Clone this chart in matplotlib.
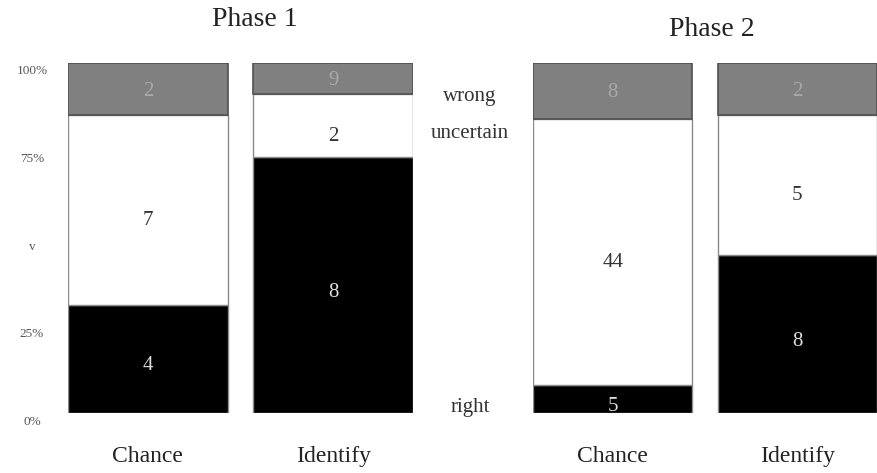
import matplotlib
matplotlib.use("Agg")
import matplotlib.pyplot as plt
from matplotlib.transforms import ScaledTranslation

plt.rcParams['font.family'] = ['Liberation Serif', 'DejaVu Serif']

categories = ["Chance", "Identify"]
phases = ["Phase 1", "Phase 2"]
# percent heights: right, uncertain, wrong
right_pct = [[31, 73], [8, 45]]
uncertain_pct = [[54, 18], [76, 40]]
wrong_pct = [[15, 9], [16, 15]]
# numbers printed in the segments
right_lbl = [["4", "8"], ["5", "8"]]
uncertain_lbl = [["7", "2"], ["44", "5"]]
wrong_lbl = [["2", "9"], ["8", "2"]]
ytick_vals = [0, 25, 50, 75, 100]
ytick_lbls = ["0%", "25%", "v", "75%", "100%"]
side_labels = ["wrong", "uncertain", "right"]

W, H = 878, 473
fig = plt.figure(figsize=(W / 100, H / 100), dpi=100)

axes_px = [(68, 413), (533, 877)]
bot_px, top_px = 413, 63
bw = 0.862
axes = []
for i, (l, r) in enumerate(axes_px):
    ax = fig.add_axes([l / W, (H - bot_px) / H, (r - l) / W, (bot_px - top_px) / H])
    axes.append(ax)
    x = list(range(len(categories)))
    rp = right_pct[i]
    up = uncertain_pct[i]
    wp = wrong_pct[i]
    ub = rp
    wb = [a + b for a, b in zip(rp, up)]
    ax.bar(x, rp, width=bw, color="black", edgecolor="#8a8a8a", linewidth=1.0)
    ax.bar(x, up, bottom=ub, width=bw, color="white", edgecolor="#8a8a8a", linewidth=1.0)
    ax.bar(x, wp, bottom=wb, width=bw, color="#808080", edgecolor="#505050", linewidth=1.2)
    for j in x:
        ax.text(j, rp[j] / 2 - 2, right_lbl[i][j], ha="center", va="center",
                color="#dddddd", fontsize=15)
        ax.text(j, ub[j] + up[j] / 2 - 3, uncertain_lbl[i][j], ha="center", va="center",
                color="#333333", fontsize=15)
        ax.text(j, wb[j] + wp[j] / 2 - 0.5, wrong_lbl[i][j], ha="center", va="center",
                color="#a8a8a8", fontsize=15)
    ax.set_xlim(-bw / 2, len(categories) - 1 + bw / 2)
    ax.set_ylim(0, 100)
    ax.set_xticks(x)
    ax.set_xticklabels(categories, fontsize=17, color="#222222")
    ax.tick_params(axis="x", length=0, pad=24)
    for s in ax.spines.values():
        s.set_visible(False)
    if i == 0:
        ax.set_yticks(ytick_vals)
        ax.set_yticklabels(ytick_lbls, fontsize=9.5, color="#555555")
        ax.tick_params(axis="y", length=0, pad=26)
        for t in ax.get_yticklabels():
            t.set_ha("center")
            t.set_transform(t.get_transform() + ScaledTranslation(0, -7 / 100, fig.dpi_scale_trans))
    else:
        ax.set_yticks([])

fig.text(255 / W, 1 - 20 / H, phases[0], ha="center", va="center", fontsize=20, color="#222222")
fig.text(712 / W, 1 - 30 / H, phases[1], ha="center", va="center", fontsize=20, color="#222222")

side_y = [97, 133, 407]
for lbl, yy in zip(side_labels, side_y):
    fig.text(470 / W, 1 - yy / H, lbl, ha="center", va="center", fontsize=15, color="#333333")

fig.savefig("out.png", dpi=100)
